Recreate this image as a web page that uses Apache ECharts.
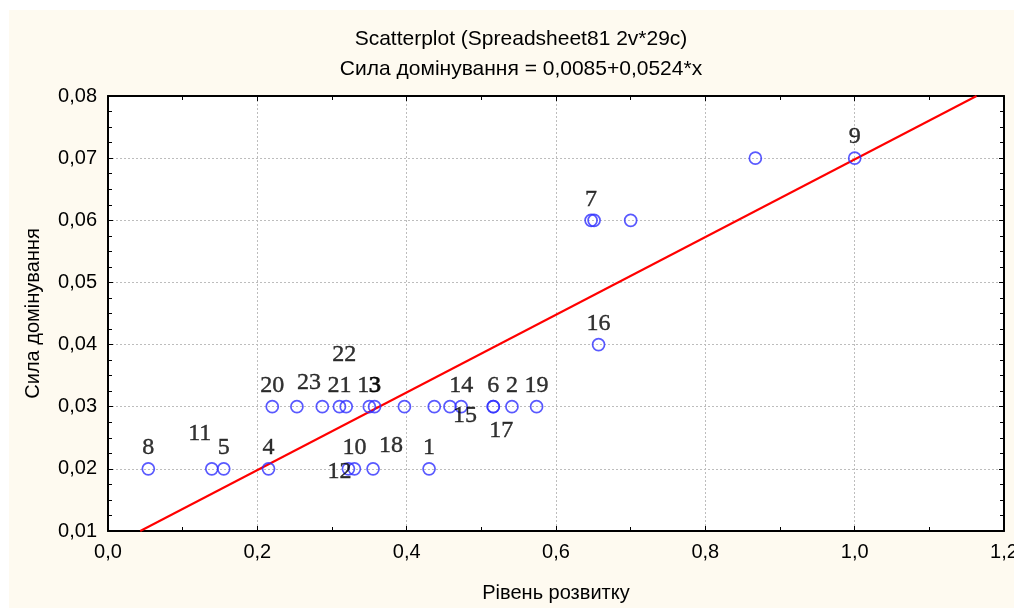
<!DOCTYPE html>
<html>
<head>
<meta charset="utf-8">
<script src="https://cdn.jsdelivr.net/npm/echarts@6/dist/echarts.min.js"></script>
<style>
  html, body { margin: 0; padding: 0; background: #fff; overflow: hidden; }
  #wrap {
    position: absolute;
    left: 9px;
    top: 10px;
    width: 1005px;
    height: 598px;
    background: #fefaf0;
  }
</style>
</head>
<body>
<div id="wrap"></div>
<script>
// case numbers ('' = case without label on the plot)
var caseLabels = ['1', '2', '3', '4', '5', '6', '7', '8', '9', '10', '11', '12',
  '13', '14', '15', '16', '17', '18', '19', '20', '21', '22', '23', '', '', '', '', '', '']
// Рівень розвитку
var xValues = [0.430, 0.541, 0.357, 0.215, 0.155, 0.516, 0.647, 0.054, 1.000, 0.330, 0.139, 0.322,
  0.350, 0.473, 0.458, 0.657, 0.516, 0.355, 0.574, 0.220, 0.310, 0.319, 0.253,
  0.287, 0.397, 0.437, 0.651, 0.700, 0.867]
// Сила домінування
var yValues = [0.02, 0.03, 0.03, 0.02, 0.02, 0.03, 0.06, 0.02, 0.07, 0.02, 0.02, 0.02,
  0.03, 0.03, 0.03, 0.04, 0.03, 0.02, 0.03, 0.03, 0.03, 0.03, 0.03,
  0.03, 0.03, 0.03, 0.06, 0.06, 0.07]
var xTicks = [0, 0.2, 0.4, 0.6, 0.8, 1.0, 1.2]
var yTicks = [0.01, 0.02, 0.03, 0.04, 0.05, 0.06, 0.07, 0.08]
// fitted line as drawn
var fitIntercept = 0.0073
var fitSlope = 0.0625

// label placement (offset from the point centre), default is above
var labelOffsets = {
  '11': [-12, -35],
  '12': [-9, 3],
  '15': [15, 9],
  '17': [8, 24],
  '18': [18, -23],
  '22': [-2, -52],
  '23': [12, -24]
}

var chart = echarts.init(document.getElementById('wrap'))

var points = xValues.map(function (x, i) {
  var lab = caseLabels[i]
  return {
    value: [x, yValues[i]],
    name: lab,
    label: {
      show: lab !== '',
      offset: labelOffsets[lab] || [0, -21]
    }
  }
})

var yMin = yTicks[0]
var yMax = yTicks[yTicks.length - 1]
var xMin = xTicks[0]
var xMax = xTicks[xTicks.length - 1]
var fitLine = [
  [(yMin - fitIntercept) / fitSlope, yMin],
  [(yMax - fitIntercept) / fitSlope, yMax]
]

var sans = 'Liberation Sans, Arial, sans-serif'
var frame = { show: true, onZero: false, lineStyle: { color: '#000', width: 2 } }
var grid = { show: true, lineStyle: { color: '#bdbdbd', type: [2, 2], width: 1 } }

function xAxisCfg(pos, main) {
  return {
    type: 'value',
    position: pos,
    min: xMin,
    max: xMax,
    interval: 0.2,
    name: main ? 'Рівень розвитку' : '',
    nameLocation: 'middle',
    nameGap: 52,
    nameTextStyle: { color: '#000', fontFamily: sans, fontSize: 20 },
    axisLine: frame,
    axisTick: { show: true, inside: true, length: 5, lineStyle: { color: '#000' } },
    minorTick: { show: true, splitNumber: 2, length: 4, lineStyle: { color: '#000' } },
    axisLabel: {
      show: main,
      margin: 11,
      color: '#000',
      fontFamily: sans,
      fontSize: 20,
      formatter: function (v) { return v.toFixed(1).replace('.', ',') }
    },
    splitLine: main ? grid : { show: false }
  }
}

function yAxisCfg(pos, main) {
  return {
    type: 'value',
    position: pos,
    min: yMin,
    max: yMax,
    interval: 0.01,
    name: main ? 'Сила домінування' : '',
    nameLocation: 'middle',
    nameGap: 65,
    nameTextStyle: { color: '#000', fontFamily: sans, fontSize: 20 },
    axisLine: frame,
    axisTick: { show: true, inside: true, length: 5, lineStyle: { color: '#000' } },
    minorTick: { show: true, splitNumber: 4, length: 4, lineStyle: { color: '#000' } },
    axisLabel: {
      show: main,
      margin: 11,
      color: '#000',
      fontFamily: sans,
      fontSize: 20,
      formatter: function (v) { return v.toFixed(2).replace('.', ',') }
    },
    splitLine: main ? grid : { show: false }
  }
}

chart.setOption({
  animation: false,
  graphic: [
    {
      type: 'text', x: 512, y: 29,
      style: { text: 'Scatterplot (Spreadsheet81 2v*29c)', align: 'center', verticalAlign: 'middle',
        fill: '#000', font: '21px ' + sans }
    },
    {
      type: 'text', x: 512, y: 59,
      style: { text: 'Сила домінування = 0,0085+0,0524*x', align: 'center', verticalAlign: 'middle',
        fill: '#000', font: '21px ' + sans }
    }
  ],
  grid: {
    left: 99,
    top: 86,
    right: 10,
    bottom: 77,
    outerBoundsMode: 'none',
    containLabel: false,
    show: true,
    backgroundColor: '#fff',
    borderWidth: 0
  },
  xAxis: [xAxisCfg('bottom', true), xAxisCfg('top', false)],
  yAxis: [yAxisCfg('left', true), yAxisCfg('right', false)],
  series: [
    {
      type: 'line',
      data: fitLine,
      symbol: 'none',
      lineStyle: { color: '#ff0000', width: 2 },
      silent: true,
      z: 2
    },
    {
      type: 'scatter',
      data: points,
      symbol: 'circle',
      symbolSize: 12,
      itemStyle: { color: 'rgba(0,0,0,0)', borderColor: '#2f2fff', borderWidth: 1.7 },
      label: {
        position: 'inside',
        formatter: '{b}',
        color: '#000',
        textBorderColor: '#000',
        textBorderWidth: 0.4,
        fontFamily: 'Liberation Serif, Times New Roman, serif',
        fontSize: 24
      },
      z: 3
    }
  ]
})
</script>
</body>
</html>
